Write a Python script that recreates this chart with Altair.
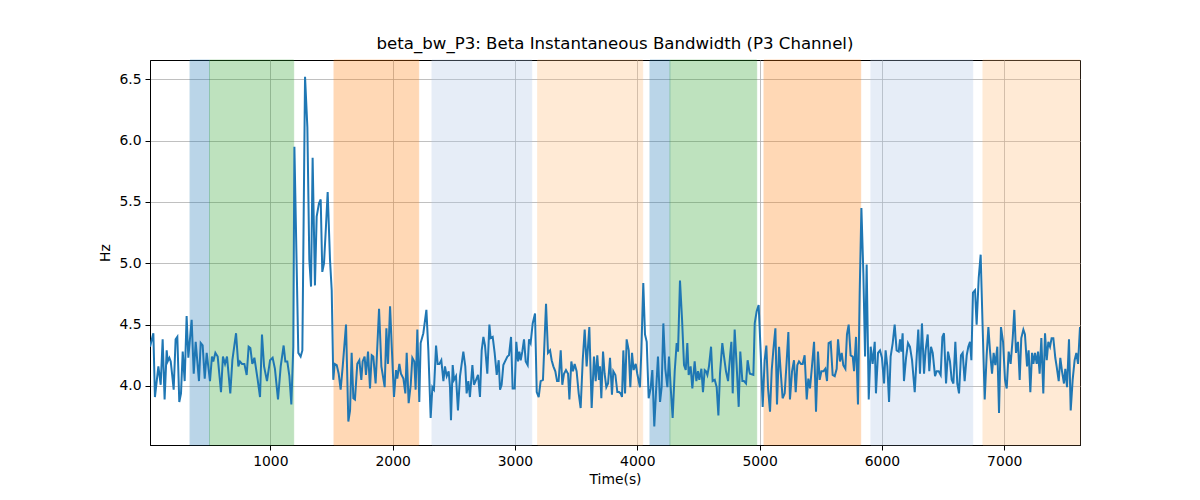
import altair as alt
import pandas as pd

# ---- data ----
times = [
    17, 44, 57, 85, 104, 120, 136, 153, 161, 175, 186, 199, 210, 226, 240, 256, 270, 284, 300, 316,
    330, 357, 374, 390, 417, 431, 447, 464, 480, 507, 523, 534, 551, 570, 597, 613, 630, 646, 673, 690,
    720, 739, 752, 769, 788, 807, 823, 837, 853, 870, 897, 916, 932, 949, 973, 998, 1019, 1038, 1063, 1085,
    1109, 1123, 1139, 1156, 1172, 1188, 1197, 1229, 1248, 1262,
    1284, 1303, 1319, 1333, 1346, 1365, 1379, 1398, 1412, 1425, 1439, 1455, 1469, 1488, 1502, 1515, 1526, 1543,
    1559, 1575, 1592, 1619, 1638, 1652, 1665, 1679, 1692, 1711, 1728, 1744, 1755, 1771, 1782, 1799, 1815, 1829,
    1842, 1861, 1889, 1908, 1935, 1949, 1962, 1979, 1995, 2011, 2028, 2038, 2055, 2068, 2088, 2104, 2115, 2131,
    2148, 2161, 2177, 2188, 2202, 2218, 2229, 2251, 2276, 2292, 2311, 2325, 2338, 2355, 2368, 2382, 2398, 2415,
    2428, 2442, 2458,
    2469, 2477, 2491, 2502, 2518, 2534, 2551, 2578, 2594, 2605, 2619, 2632, 2652, 2665, 2682, 2698, 2714, 2728,
    2742, 2755, 2774, 2791, 2801, 2818, 2834, 2851, 2867, 2878, 2891, 2905, 2919, 2938, 2951, 2968, 2981, 2998,
    3011, 3025, 3036, 3047, 3060, 3074, 3088, 3104, 3115, 3128, 3145, 3164, 3178, 3194, 3210, 3229, 3254, 3270,
    3287, 3300, 3314, 3330, 3344, 3357, 3374, 3387, 3401, 3417, 3434, 3445, 3461, 3474, 3488, 3504, 3521, 3537,
    3554, 3570, 3586, 3608, 3627, 3646, 3660, 3673, 3687,
    3695, 3706, 3720, 3733, 3747, 3761, 3777, 3793, 3804, 3821, 3837, 3851, 3864, 3875, 3886, 3900, 3913, 3930,
    3943, 3957, 3970, 3987, 4000, 4022, 4033, 4049, 4063, 4077, 4093, 4109, 4123, 4139, 4153, 4169, 4186, 4199,
    4213, 4229, 4246, 4259, 4273, 4289, 4306, 4322, 4333, 4349, 4366, 4382, 4396, 4409, 4420, 4436, 4450, 4469,
    4483, 4496, 4507, 4524, 4537, 4551, 4562, 4573, 4586, 4603, 4616, 4633, 4649, 4663, 4676, 4695, 4709, 4725,
    4742, 4758, 4769, 4780, 4796, 4812, 4829, 4842, 4859, 4872, 4889, 4902, 4916,
    4921, 4949, 4960, 4976, 4992, 5009, 5025, 5041, 5055, 5069, 5085, 5099, 5112, 5129, 5142, 5159, 5172, 5188,
    5205, 5221, 5235, 5248, 5265, 5281, 5295, 5308, 5322, 5338, 5352, 5368, 5385, 5398, 5412, 5428, 5445, 5461,
    5477, 5491, 5505, 5521, 5537, 5551, 5564, 5581, 5597, 5614, 5630, 5641, 5657, 5671, 5684, 5701, 5714, 5728,
    5744, 5761, 5772, 5788, 5804, 5818, 5832, 5848, 5862, 5875, 5892, 5908, 5924, 5941, 5951, 5968, 5984, 6000,
    6017, 6030, 6044, 6058, 6071, 6088, 6104, 6120, 6137,
    6148, 6158, 6169, 6180, 6197, 6213, 6229, 6246, 6268, 6284, 6297, 6311, 6327, 6344, 6357, 6374, 6387, 6401,
    6415, 6434, 6447, 6464, 6480, 6494, 6507, 6524, 6540, 6556, 6570, 6584, 6600, 6616, 6630, 6646, 6660, 6676,
    6693, 6706, 6720, 6731, 6744, 6761, 6774, 6791, 6807, 6823, 6840, 6856, 6870, 6883, 6900, 6913, 6927, 6943,
    6957, 6973, 6990, 7006, 7020, 7036, 7052, 7069, 7082, 7096, 7112, 7126, 7139, 7156, 7169, 7186, 7199, 7213,
    7227, 7238, 7251, 7265, 7276, 7289, 7303, 7319, 7333, 7347, 7360, 7374, 7387, 7401, 7417, 7428, 7445, 7458,
    7472, 7488, 7499, 7513, 7529, 7543, 7559, 7575, 7589, 7603, 7619,
]
bandwidth = [
    4.32, 4.43, 3.91, 4.16, 4.01, 4.38, 3.89, 4.29, 4.20, 4.23, 4.20, 4.08, 3.97, 4.38, 4.40, 3.87, 3.94, 4.28, 4.04, 4.57,
    4.23, 4.54, 4.10, 4.36, 4.04, 4.35, 4.33, 4.06, 4.27, 4.04, 4.24, 4.20, 4.27, 4.24, 3.95, 4.24, 4.18, 4.24, 3.94, 4.21,
    4.43, 4.16, 4.20, 4.18, 4.18, 4.09, 4.32, 4.31, 4.18, 4.23, 4.05, 3.91, 4.42, 4.16, 4.04, 4.21, 4.23, 4.14, 3.89, 4.16,
    4.33, 4.20, 4.20, 4.08, 3.85, 4.32, 5.95, 4.27, 4.24, 4.29,
    6.52, 6.11, 5.03, 4.81, 5.86, 4.82, 5.38, 5.49, 5.52, 4.93, 5.00, 5.30, 5.58, 5.03, 4.78, 4.05, 4.18, 4.17,
    4.10, 3.97, 4.16, 4.50, 3.71, 3.80, 4.27, 3.90, 3.89, 4.18, 4.21, 4.05, 4.20, 4.24, 4.09, 4.28, 3.98, 4.25,
    4.24, 4.02, 4.63, 4.16, 3.99, 4.47, 4.18, 4.65, 4.27, 3.91, 4.13, 4.06, 4.18, 4.10, 4.06, 3.94, 4.27, 3.86,
    4.01, 4.23, 4.20, 3.97, 4.46, 3.87, 4.35, 4.43, 4.62, 4.29, 3.74, 3.99, 3.97, 4.33, 4.18, 4.18, 4.21, 4.04,
    4.16, 4.08, 4.12,
    3.99, 3.72, 4.17, 4.05, 4.08, 3.80, 4.08, 4.28, 4.16, 3.94, 4.04, 3.91, 4.17, 4.01, 4.05, 4.09, 3.91, 4.29,
    4.40, 4.33, 4.10, 4.50, 4.39, 4.40, 4.27, 4.09, 4.21, 3.97, 4.01, 4.17, 4.20, 4.24, 4.25, 4.40, 3.98, 3.98,
    4.36, 4.20, 4.28, 4.21, 4.28, 4.38, 4.20, 4.17, 4.38, 4.35, 4.51, 4.59, 3.95, 3.91, 4.04, 4.05, 4.67, 4.27,
    4.29, 4.21, 4.16, 4.12, 4.04, 4.04, 4.29, 4.01, 4.10, 4.13, 4.10, 3.89, 4.20, 4.12, 4.18, 4.12, 3.94, 3.82,
    4.21, 4.46, 4.16, 4.48, 3.82, 4.24, 4.04, 4.25, 4.05,
    4.16, 3.90, 4.28, 4.10, 3.99, 4.02, 4.23, 3.93, 4.12, 4.09, 3.95, 3.95, 3.94, 3.91, 4.29, 3.94, 4.38, 4.29,
    3.99, 4.27, 4.13, 4.18, 4.10, 3.99, 4.28, 4.84, 4.42, 4.36, 3.90, 3.98, 4.13, 3.67, 3.95, 4.24, 3.87, 3.99,
    4.51, 4.14, 3.99, 4.24, 3.99, 3.74, 4.12, 4.35, 4.28, 4.86, 4.54, 4.17, 4.13, 4.35, 4.09, 4.16, 3.98, 4.20,
    4.04, 4.12, 4.05, 4.14, 3.95, 4.13, 4.12, 4.09, 4.16, 4.32, 4.04, 4.05, 3.99, 3.76, 4.10, 4.35, 4.24, 4.12,
    4.04, 4.24, 4.36, 3.94, 4.46, 4.17, 3.83, 4.28, 4.04, 4.04, 4.02, 4.21, 4.12,
    4.10, 4.09, 4.51, 4.61, 4.66, 4.27, 3.83, 4.21, 4.33, 3.98, 3.79, 4.13, 4.29, 4.47, 3.85, 4.32, 4.12, 3.90,
    3.94, 4.20, 4.44, 3.89, 4.12, 4.21, 3.95, 4.17, 4.20, 4.18, 4.18, 4.25, 3.89, 4.06, 3.98, 4.16, 4.36, 3.79,
    4.28, 4.05, 4.12, 4.12, 4.14, 4.04, 4.35, 4.36, 4.09, 4.08, 4.14, 4.38, 4.20, 4.27, 4.17, 4.14, 4.42, 4.50,
    4.25, 4.24, 4.12, 4.40, 3.85, 4.76, 5.45, 4.92, 4.24, 4.99, 3.89, 4.32, 4.18, 4.36, 3.94, 4.27, 4.29, 4.23,
    4.02, 4.29, 4.16, 3.87, 4.24, 4.35, 4.50, 4.29, 4.28,
    4.38, 4.28, 4.43, 4.04, 4.23, 4.35, 4.32, 4.21, 3.95, 4.24, 4.46, 4.10, 4.51, 4.10, 4.29, 4.42, 4.12, 4.32,
    4.27, 4.08, 4.12, 4.12, 4.09, 4.40, 4.43, 4.02, 4.28, 4.20, 4.05, 4.02, 4.36, 4.02, 3.94, 4.25, 4.27, 4.04,
    4.25, 4.32, 4.36, 4.21, 4.76, 4.78, 4.50, 4.88, 5.07, 4.48, 3.89, 4.25, 4.48, 4.29, 4.10, 4.27, 4.17, 4.32,
    3.78, 4.48, 4.36, 4.05, 3.98, 4.28, 4.18, 4.39, 4.62, 4.27, 4.36, 4.05, 4.39, 4.46, 4.42, 4.16, 4.29, 3.95,
    4.27, 4.18, 4.27, 4.18, 4.28, 4.10, 4.39, 3.94, 4.43, 4.21, 4.36, 4.32, 4.39, 4.39, 4.23, 4.16, 4.04, 4.23,
    4.12, 4.02, 4.14, 3.99, 4.38, 3.80, 4.05, 4.21, 4.27, 4.18, 4.48,
]

span_starts = [344, 503, 1521, 2322, 3186, 4104, 4267, 5036, 5910, 6826]
span_ends = [503, 1191, 2213, 3137, 4044, 4267, 4976, 5826, 6742, 7619]
span_colors = ["#1f77b4", "#2ca02c", "#ff7f0e", "#aec7e8", "#ffbb78",
               "#1f77b4", "#2ca02c", "#ff7f0e", "#aec7e8", "#ffbb78"]

x_ticks = [1000, 2000, 3000, 4000, 5000, 6000, 7000]
y_ticks = [4.0, 4.5, 5.0, 5.5, 6.0, 6.5]
x_domain = [16.6, 7619]
y_domain = [3.519, 6.657]

line_df = pd.DataFrame({"t": times, "hz": bandwidth})
span_df = pd.DataFrame({"start": span_starts, "end": span_ends, "color": span_colors})

FONT = "DejaVu Sans"

x_scale = alt.Scale(domain=x_domain, nice=False, zero=False)
y_scale = alt.Scale(domain=y_domain, nice=False, zero=False)

spans = alt.Chart(span_df).mark_rect(opacity=0.3, strokeWidth=1).encode(
    x=alt.X("start:Q", scale=x_scale,
            axis=alt.Axis(values=x_ticks, format="d", title="Time(s)")),
    x2="end:Q",
    fill=alt.Color("color:N", scale=None),
    stroke=alt.Color("color:N", scale=None),
)

line = alt.Chart(line_df).mark_line(color="#1f77b4", strokeWidth=2, clip=True).encode(
    x=alt.X("t:Q", scale=x_scale),
    y=alt.Y("hz:Q", scale=y_scale,
            axis=alt.Axis(values=y_ticks, format=".1f", title="Hz")),
)

chart = alt.layer(spans, line).properties(
    width=930,
    height=385,
    title=alt.Title("beta_bw_P3: Beta Instantaneous Bandwidth (P3 Channel)",
                    font=FONT, fontSize=16.6, fontWeight="normal", color="black",
                    anchor="middle", offset=7),
    autosize=alt.AutoSizeParams(type="none"),
    padding={"left": 142, "top": 52, "right": 112, "bottom": 47},
).configure_view(
    stroke="black", strokeWidth=1
).configure_axis(
    grid=True, gridColor="#b0b0b0", gridWidth=0.8,
    domain=True, domainColor="black", domainWidth=1,
    tickColor="black", tickSize=5, tickWidth=1,
    labelFont=FONT, labelFontSize=13.9, labelColor="black", labelPadding=4,
    titleFont=FONT, titleFontSize=13.9, titleFontWeight="normal", titleColor="black",
    zindex=1,
).configure_axisX(
    titlePadding=5,
).configure_axisY(
    titlePadding=6,
)

chart.save("out.html", embed_options={"renderer": "svg", "actions": False})
